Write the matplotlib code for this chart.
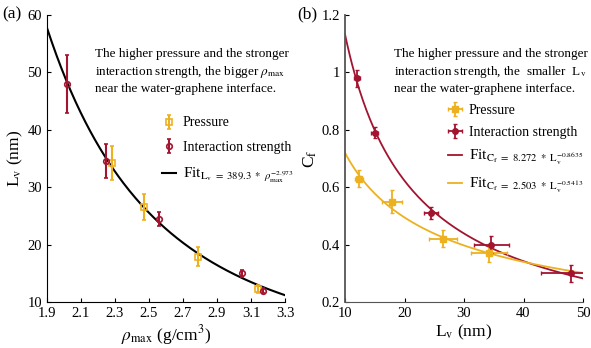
import numpy as np
import matplotlib
matplotlib.use("Agg")
import matplotlib.pyplot as plt

plt.rcParams['font.family'] = ['Liberation Serif', 'DejaVu Serif']
plt.rcParams['mathtext.fontset'] = 'stix'

YEL = '#EDB120'
RED = '#A2142F'

# Panel (a) data
rho_p = [2.28, 2.47, 2.79, 3.14]
Lv_p = [34.2, 26.5, 17.9, 12.2]
Lv_p_err = [3.0, 2.3, 1.7, 0.7]
rho_i = [2.02, 2.25, 2.56, 3.05, 3.17]
Lv_i = [48.0, 34.6, 24.5, 15.0, 12.0]
Lv_i_err = [5.0, 3.0, 1.2, 0.6, 0.5]
fit_a = (389.3, -2.973)

# Panel (b) data
Lv_bp = [12.3, 17.9, 26.5, 34.2]
Lv_bp_err = [0.7, 1.7, 2.3, 3.0]
Cf_p = [0.63, 0.55, 0.42, 0.37]
Cf_p_err = [0.03, 0.04, 0.03, 0.03]
Lv_bi = [12.0, 15.0, 24.5, 34.6, 48.0]
Lv_bi_err = [0.5, 0.6, 1.2, 3.0, 5.0]
Cf_i = [0.98, 0.79, 0.51, 0.40, 0.30]
Cf_i_err = [0.03, 0.02, 0.02, 0.03, 0.03]
fit_b_i = (8.272, -0.8635)
fit_b_p = (2.503, -0.5413)

fig = plt.figure(figsize=(5.91, 3.48), dpi=100)
axa = fig.add_axes([47/591, 1-302/348, (285-47)/591, (302-15)/348])
axb = fig.add_axes([345/591, 1-302/348, (583-345)/591, (302-15)/348])

for ax in (axa, axb):
    ax.spines['top'].set_visible(False)
    ax.spines['right'].set_visible(False)
    ax.tick_params(direction='in', length=3, labelsize=10.5)

# ---- panel a
xx = np.linspace(1.9, 3.3, 200)
fa, = axa.plot(xx, fit_a[0]*xx**fit_a[1], color='black', lw=1.5,
               label=r'Fit$_{\mathrm{L_v}\ =\ 389.3\ *\ \rho_{\mathrm{max}}^{-2.973}}$')
ep = axa.errorbar(rho_p, Lv_p, yerr=Lv_p_err, fmt='s', color=YEL, mfc='none',
                  ms=4, mew=1.2, elinewidth=1.5, capsize=1.5, label='Pressure')
ei = axa.errorbar(rho_i, Lv_i, yerr=Lv_i_err, fmt='o', color=RED, mfc='none',
                  ms=4, mew=1.2, elinewidth=1.5, capsize=1.5, label='Interaction strength')
axa.set_xlim(1.9, 3.3)
axa.set_ylim(10, 60)
axa.set_xticks(np.arange(1.9, 3.31, 0.2))
axa.set_xticklabels(['1.9', '2.1', '2.3', '2.5', '2.7', '2.9', '3.1', '3.3'])
axa.set_yticks([10, 20, 30, 40, 50, 60])
axa.set_xlabel(r'$\rho_{\mathrm{max}}$ (g/cm$^3$)', fontsize=12.5, labelpad=2)
axa.set_ylabel(r'L$_\mathrm{v}$ (nm)', fontsize=12.5, labelpad=2)
axa.text(0.20, 0.885, 'The higher pressure and the stronger\n'
         r'interaction strength, the bigger $\rho_{\mathrm{max}}$' '\n'
         'near the water-graphene interface.',
         transform=axa.transAxes, fontsize=9.5, va='top', ha='left', linespacing=1.35)
lega = axa.legend(handles=[ep, ei, fa], loc='upper left', bbox_to_anchor=(0.43, 0.69),
                  frameon=False, fontsize=10, handlelength=1.0, handletextpad=0.5,
                  labelspacing=0.85)
lega.get_texts()[2].set_fontsize(11)

# ---- panel b
xb = np.linspace(10, 50, 200)
fbi, = axb.plot(xb, fit_b_i[0]*xb**fit_b_i[1], color=RED, lw=1.3,
                label=r'Fit$_{\mathrm{C_f}\ =\ 8.272\ *\ \mathrm{L_v^{-0.8635}}}$')
fbp, = axb.plot(xb, fit_b_p[0]*xb**fit_b_p[1], color=YEL, lw=1.3,
                label=r'Fit$_{\mathrm{C_f}\ =\ 2.503\ *\ \mathrm{L_v^{-0.5413}}}$')
ebp = axb.errorbar(Lv_bp, Cf_p, xerr=Lv_bp_err, yerr=Cf_p_err, fmt='s', color=YEL,
                   mfc=YEL, ms=4, mew=1.0, elinewidth=1.3, capsize=1.5, label='Pressure')
ebi = axb.errorbar(Lv_bi, Cf_i, xerr=Lv_bi_err, yerr=Cf_i_err, fmt='o', color=RED,
                   mfc=RED, ms=4, mew=1.0, elinewidth=1.3, capsize=1.5,
                   label='Interaction strength')
axb.set_xlim(10, 50)
axb.set_ylim(0.2, 1.2)
axb.set_xticks([10, 20, 30, 40, 50])
axb.set_yticks([0.2, 0.4, 0.6, 0.8, 1.0, 1.2])
axb.set_yticklabels(['0.2', '0.4', '0.6', '0.8', '1', '1.2'])
axb.spines['left'].set_color('#555555')
axb.spines['left'].set_linewidth(1.3)
axb.spines['bottom'].set_color('#555555')
axb.set_xlabel(r'L$_\mathrm{v}$ (nm)', fontsize=12.5, labelpad=2)
axb.set_ylabel(r'C$_\mathrm{f}$', fontsize=12.5, labelpad=2)
axb.text(0.205, 0.885, 'The higher pressure and the stronger\n'
         r'interaction strength, the  smaller  L$_\mathrm{v}$' '\n'
         'near the water-graphene interface.',
         transform=axb.transAxes, fontsize=9.5, va='top', ha='left', linespacing=1.35)
legb = axb.legend(handles=[ebp, ebi, fbi, fbp], loc='upper left', bbox_to_anchor=(0.38, 0.735),
                  frameon=False, fontsize=10, handlelength=1.0, handletextpad=0.5,
                  labelspacing=0.65)
legb.get_texts()[2].set_fontsize(11)
legb.get_texts()[3].set_fontsize(11)

fig.text(2/591, 1-14/348, '(a)', fontsize=12.5, va='center')
fig.text(297/591, 1-14/348, '(b)', fontsize=12.5, va='center')

fig.savefig('out.png', dpi=100)
